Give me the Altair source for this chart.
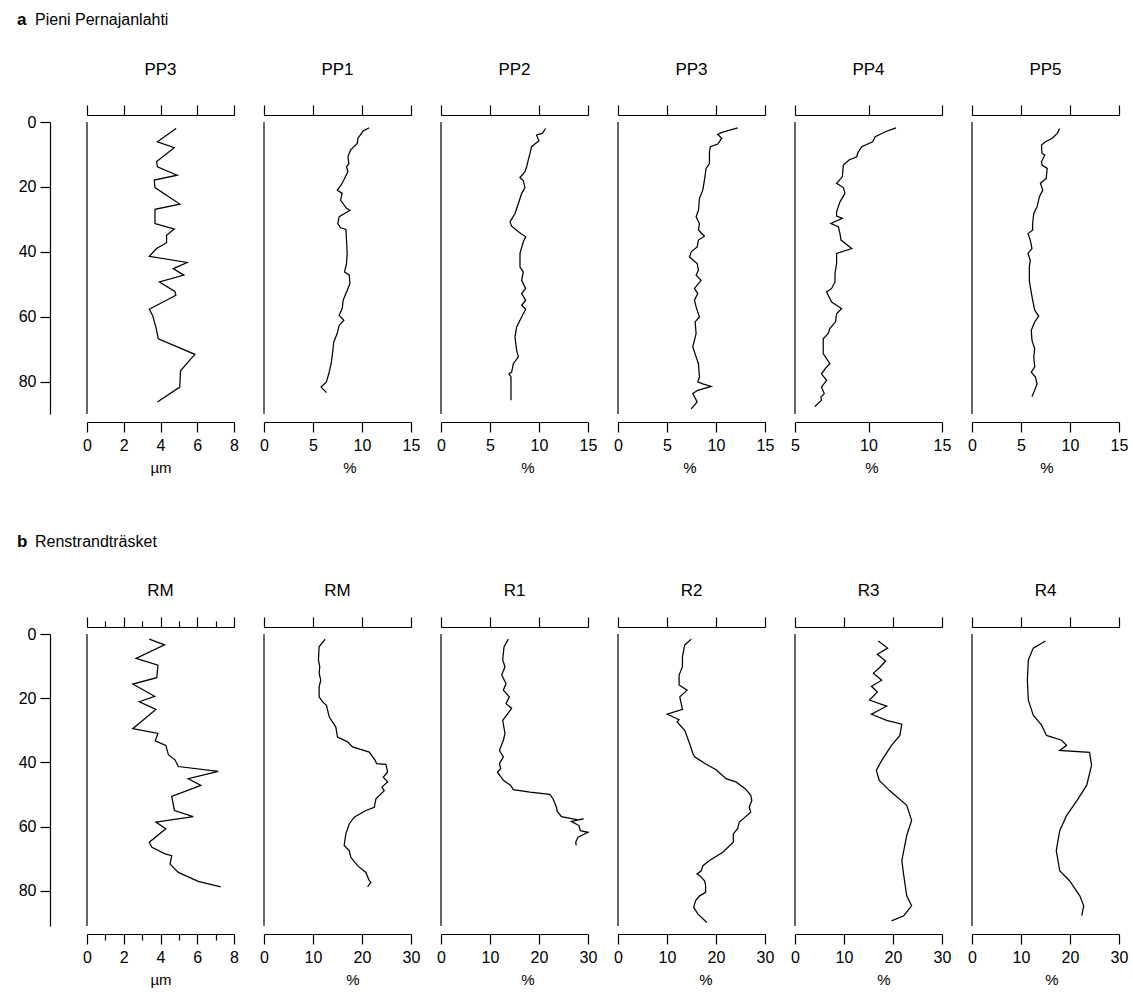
import altair as alt
import pandas as pd

FONT = "Liberation Sans"
W = 147
H = 292

# ---------------- Row a : Pieni Pernajanlahti ----------------
pp3um_depth = [2.0, 6.1, 7.9, 12.2, 13.8, 16.4, 17.9, 20.2, 25.3, 26.9, 31.3, 33.0, 34.9, 37.2, 39.0,
               41.4, 43.3, 45.2, 47.2, 49.3, 52.2, 53.4, 57.7, 59.6, 63.2, 66.8, 71.6, 76.7, 81.7, 86.3]
pp3um_val = [4.85, 3.83, 4.75, 3.79, 3.83, 4.91, 3.66, 3.70, 5.05, 3.70, 3.70, 4.75, 4.33, 4.33, 3.79,
             3.39, 5.45, 4.69, 5.27, 3.94, 4.78, 4.84, 3.39, 3.57, 3.75, 3.88, 5.87, 5.09, 5.05, 3.83]

pp1_depth = [1.8, 2.7, 5.0, 6.6, 8.6, 10.7, 12.8, 13.8, 15.3, 17.4, 19.4, 21.0, 22.0, 24.1, 26.6, 27.2,
             28.2, 29.2, 31.3, 32.6, 33.1, 36.4, 40.5, 43.6, 46.2, 47.2, 49.8, 52.4, 54.9, 57.5, 59.6,
             61.1, 62.7, 65.2, 67.8, 71.4, 74.5, 77.6, 80.1, 81.7, 83.4]
pp1_val = [10.72, 10.14, 9.59, 9.52, 8.84, 8.56, 8.66, 8.42, 8.56, 8.22, 7.88, 7.47, 7.98, 7.81, 8.42, 8.77,
           8.22, 7.67, 7.53, 7.81, 8.36, 8.42, 8.49, 8.42, 8.22, 8.70, 8.77, 8.42, 8.08, 7.98, 7.67,
           8.15, 7.67, 7.47, 7.12, 6.99, 6.85, 6.61, 6.37, 5.82, 6.37]

pp2_depth = [2.0, 3.5, 4.0, 5.8, 7.6, 9.7, 11.7, 13.8, 15.3, 17.1, 18.1, 20.2, 22.0, 25.1, 28.2, 30.8,
             32.1, 33.8, 35.4, 36.9, 40.5, 44.7, 46.2, 48.8, 51.3, 52.9, 54.9, 56.5, 57.7, 60.1, 63.2,
             66.3, 70.4, 72.4, 74.5, 77.1, 77.6, 78.6, 85.8]
pp2_val = [10.67, 10.33, 9.75, 9.99, 9.24, 9.08, 8.91, 8.74, 8.57, 8.05, 8.40, 8.57, 8.23, 7.90, 7.55, 7.04,
           7.21, 7.90, 8.64, 8.40, 8.06, 8.06, 8.40, 8.23, 8.64, 8.23, 8.64, 8.23, 8.64, 8.23, 7.72,
           7.55, 7.72, 7.90, 7.38, 7.21, 6.94, 7.14, 7.14]

pp3_depth = [1.8, 3.2, 3.8, 5.0, 6.8, 7.6, 9.2, 12.8, 14.3, 17.9, 21.0, 23.6, 27.2, 29.2, 31.3, 33.3,
             35.2, 36.4, 38.5, 40.0, 41.6, 43.6, 45.7, 47.2, 48.8, 51.3, 52.9, 54.9, 57.0, 60.1, 61.6,
             65.2, 69.3, 72.4, 74.5, 78.6, 80.1, 80.7, 81.5, 82.7, 83.7, 86.3, 88.4]
pp3_val = [12.22, 10.60, 10.18, 10.59, 10.18, 9.43, 9.33, 9.33, 8.99, 8.82, 8.65, 8.31, 8.21, 7.97, 8.31, 8.21,
           8.82, 8.21, 8.08, 7.47, 7.30, 8.08, 8.21, 7.97, 8.48, 7.80, 8.14, 7.80, 7.97, 8.31, 7.87,
           7.97, 7.63, 7.97, 8.21, 8.31, 8.14, 8.65, 9.50, 8.14, 7.63, 8.08, 7.47]

pp4_depth = [1.8, 3.0, 4.5, 6.1, 7.6, 9.5, 10.7, 11.7, 13.3, 16.9, 18.9, 20.2, 22.0, 24.6, 27.7, 29.0,
             29.7, 31.3, 32.3, 34.4, 36.4, 39.0, 40.5, 43.6, 46.7, 49.3, 51.3, 52.4, 55.5, 57.5, 59.1,
             61.6, 63.7, 65.2, 66.8, 71.4, 74.5, 75.5, 77.6, 79.6, 81.7, 83.7, 84.8, 85.8, 87.7]
pp4_val = [11.87, 11.14, 10.46, 10.28, 9.54, 9.27, 9.20, 8.68, 8.29, 8.22, 7.83, 8.29, 8.40, 8.06, 7.83, 7.83,
           8.22, 7.44, 7.95, 8.06, 8.13, 8.86, 7.83, 7.83, 7.72, 7.72, 7.49, 7.15, 7.49, 8.17, 7.83,
           7.76, 7.37, 7.26, 6.92, 6.92, 7.37, 7.15, 6.80, 7.15, 6.80, 6.99, 6.76, 6.80, 6.35]

pp5_depth = [2.0, 3.5, 5.0, 6.1, 7.1, 9.7, 10.2, 12.2, 13.3, 14.3, 17.4, 18.9, 21.0, 23.0, 26.1, 28.2,
             31.3, 33.3, 34.4, 36.4, 39.0, 40.5, 42.6, 44.7, 48.8, 50.8, 54.9, 58.0, 59.9, 61.6, 64.2,
             67.3, 69.9, 72.4, 75.5, 77.1, 78.6, 80.7, 82.7, 84.6]
pp5_val = [8.94, 8.70, 8.19, 7.50, 7.09, 7.15, 7.43, 7.09, 7.15, 7.67, 7.57, 6.98, 7.22, 6.88, 6.64, 6.30,
           6.19, 6.19, 5.71, 5.95, 6.12, 5.71, 5.95, 5.85, 5.85, 5.95, 6.19, 6.40, 6.81, 6.40, 6.05,
           6.12, 6.40, 6.30, 6.40, 6.05, 6.47, 6.64, 6.40, 6.12]

# ---------------- Row b : Renstrandträsket ----------------
rmum_depth = [1.6, 3.4, 7.6, 9.7, 13.6, 15.6, 19.4, 21.1, 23.5, 29.5, 31.0, 33.3, 34.7, 37.6, 39.2, 41.3,
              42.8, 45.1, 47.2, 50.6, 55.0, 56.9, 58.6, 60.7, 64.9, 66.5, 68.5, 69.1, 71.7, 74.3, 77.1, 78.8]
rmum_val = [3.39, 4.22, 2.67, 3.86, 3.80, 2.49, 3.68, 2.85, 3.75, 2.49, 3.86, 3.71, 4.29, 4.43, 4.79, 4.97,
            7.14, 5.51, 6.20, 4.61, 4.76, 5.78, 3.75, 4.29, 3.39, 3.53, 4.25, 4.61, 4.52, 4.97, 6.05, 7.28]

rm_depth = [1.6, 4.0, 8.1, 10.2, 12.3, 14.4, 16.5, 19.6, 21.1, 22.2, 25.8, 29.0, 32.1, 33.6, 35.2, 36.8,
            39.4, 40.4, 40.6, 43.0, 44.6, 46.1, 47.7, 48.8, 51.4, 54.0, 55.0, 57.1, 59.2, 62.3, 65.9,
            67.5, 69.6, 72.2, 74.3, 76.9, 77.4, 78.8]
rm_val = [12.48, 11.25, 11.11, 11.38, 11.25, 11.59, 11.25, 11.25, 11.93, 12.75, 13.30, 14.66, 15.00, 17.04, 18.07,
          21.48, 22.70, 22.97, 24.88, 25.23, 24.34, 25.23, 24.07, 24.54, 22.84, 22.50, 20.80, 18.40, 17.39,
          16.70, 16.36, 17.39, 17.73, 19.09, 20.80, 21.48, 21.82, 21.14]

r1_depth = [1.6, 4.0, 8.1, 10.2, 12.8, 15.4, 17.5, 19.6, 21.7, 23.2, 26.9, 31.0, 33.1, 36.3, 38.3, 40.4,
            42.0, 43.0, 45.6, 47.2, 48.5, 49.3, 50.0, 51.4, 54.0, 55.2, 56.9, 57.9, 57.6, 58.4, 59.7,
            61.3, 61.8, 63.3, 64.9, 65.9]
r1_val = [13.74, 12.86, 12.59, 13.06, 12.39, 13.27, 12.73, 13.95, 13.27, 14.42, 12.59, 13.06, 12.73, 11.92, 12.73,
          11.92, 12.19, 11.51, 12.73, 14.22, 14.76, 18.14, 22.21, 22.88, 23.56, 23.70, 24.58, 27.96, 29.11,
          26.60, 28.16, 28.43, 29.99, 27.96, 27.49, 27.60]

r2_depth = [1.6, 3.4, 7.1, 10.2, 12.8, 15.9, 17.5, 19.6, 23.5, 25.0, 26.7, 27.4, 30.0, 34.2, 37.3, 38.3,
            40.6, 42.3, 45.1, 46.1, 48.2, 50.3, 51.9, 54.0, 55.5, 57.3, 58.6, 60.7, 62.3, 64.9, 68.0,
            70.6, 72.2, 73.8, 74.8, 75.3, 76.9, 78.4, 80.5, 81.6, 83.1, 85.2, 87.3, 89.9]
r2_val = [14.97, 13.62, 13.15, 13.15, 12.47, 12.47, 14.09, 12.61, 13.15, 10.05, 12.47, 12.07, 13.62, 14.63, 15.30,
          15.64, 18.00, 20.03, 22.05, 24.07, 25.96, 27.10, 27.31, 26.77, 27.10, 25.76, 24.75, 24.41, 23.53,
          23.53, 21.38, 18.68, 17.33, 16.99, 16.12, 16.66, 17.67, 17.88, 17.88, 16.66, 15.85, 15.44, 16.32, 18.14]

r3_depth = [2.2, 4.4, 6.3, 8.4, 10.6, 12.2, 14.4, 16.3, 18.1, 20.6, 22.5, 25.0, 26.9, 28.1, 31.6, 34.7,
            39.4, 42.5, 45.6, 48.8, 53.4, 58.1, 62.8, 67.5, 70.6, 75.3, 81.6, 84.7, 87.8, 89.4]
r3_val = [17.0, 18.9, 16.8, 18.5, 17.2, 16.0, 17.7, 15.6, 16.8, 15.2, 18.7, 15.6, 18.7, 21.8, 21.4, 19.7,
          17.7, 16.6, 17.2, 19.3, 22.8, 23.8, 22.8, 22.2, 21.8, 22.2, 22.8, 23.8, 22.2, 19.7]

r4_depth = [2.2, 4.4, 8.1, 14.4, 20.6, 25.3, 28.4, 31.6, 33.1, 34.7, 36.3, 36.9, 40.9, 47.2, 51.9, 56.6,
            61.3, 67.5, 73.8, 76.9, 81.6, 84.7, 87.8]
r4_val = [15.0, 12.5, 11.5, 11.3, 11.5, 12.5, 14.2, 15.2, 18.3, 19.3, 17.9, 24.0, 24.4, 23.4, 21.4, 19.3,
          17.9, 17.2, 17.9, 19.9, 22.0, 22.8, 22.4]

Y_TICKS = [0, 20, 40, 60, 80]

AX = dict(domainColor="black", domainWidth=1.2, tickColor="black", tickWidth=1.2, grid=False,
          labelFont=FONT, labelFontSize=16, labelColor="black", titleFont=FONT, titleFontSize=15,
          titleFontWeight="normal", titleColor="black", labelFlush=False, labelOverlap=False)


def panel(depth, vals, title, domain, ticks, xtitle, ymax, title_y, label_y, tdx=0, first=False,
          minor=None, row_letter=None, row_name=None):
    df = pd.DataFrame({"d": depth, "v": vals})
    df["i"] = range(len(df))
    xs = alt.Scale(domain=domain, nice=False, zero=False)
    ys = alt.Scale(domain=[0, ymax], reverse=True, nice=False, zero=False)

    bottom = alt.Axis(orient="bottom", values=ticks, offset=8, tickSize=10, labelPadding=5,
                      title=xtitle, titlePadding=7, titleX=W / 2 + tdx, **AX)
    top = alt.Axis(orient="top", values=ticks, offset=7, tickSize=10, labels=False, title=None, **AX)
    if first:
        yax = alt.Axis(orient="left", values=Y_TICKS, offset=37, tickSize=10, labelPadding=4,
                       title=None, **AX)
    else:
        yax = None

    line = alt.Chart(df).mark_line(color="black", strokeWidth=1.25).encode(
        x=alt.X("v:Q", scale=xs, axis=bottom),
        y=alt.Y("d:Q", scale=ys, axis=yax),
        order="i:Q",
    )
    toplayer = alt.Chart(df).mark_line(strokeOpacity=0).encode(
        x=alt.X("v:Q", scale=xs, axis=top),
        y=alt.Y("d:Q", scale=ys, axis=yax),
        order="i:Q",
    )
    frame = alt.Chart(pd.DataFrame({"k": [0]})).mark_rule(color="black", strokeWidth=1.2).encode(
        x=alt.value(0),
        y=alt.YDatum(0, axis=yax, scale=ys),
        y2=alt.Y2Datum(ymax),
    )
    ttl = alt.Chart(pd.DataFrame({"t": [title]})).mark_text(
        font=FONT, fontSize=17, align="center", baseline="middle", color="black").encode(
        text="t:N", x=alt.value(W / 2), y=alt.value(title_y))
    layers = [line, toplayer, frame, ttl]
    if minor:
        bmin = alt.Axis(orient="bottom", values=minor, offset=8, tickSize=6, labels=False, domain=False,
                        title=None, **AX)
        tmin = alt.Axis(orient="top", values=minor, offset=7, tickSize=6, labels=False, domain=False,
                        title=None, **AX)
        for ax in (bmin, tmin):
            layers.append(alt.Chart(df).mark_line(strokeOpacity=0).encode(
                x=alt.X("v:Q", scale=xs, axis=ax),
                y=alt.Y("d:Q", scale=ys, axis=yax),
                order="i:Q",
            ))
    if row_letter:
        lab = pd.DataFrame({"t": [row_letter]})
        layers.append(alt.Chart(lab).mark_text(font=FONT, fontSize=17, fontWeight="bold", align="left",
                                               baseline="alphabetic", color="black").encode(
            text="t:N", x=alt.value(-70), y=alt.value(label_y)))
        nm = pd.DataFrame({"t": [row_name]})
        layers.append(alt.Chart(nm).mark_text(font=FONT, fontSize=16, align="left",
                                              baseline="alphabetic", color="black").encode(
            text="t:N", x=alt.value(-52), y=alt.value(label_y)))

    return alt.layer(*layers).resolve_axis(x="independent").properties(width=W, height=H)


T15 = [0, 5, 10, 15]
T30 = [0, 10, 20, 30]
YA, YB = 90, 91
TA, TB = -52, -43
LA, LB = -97, -87

panels = [
    panel(pp3um_depth, pp3um_val, "PP3", [0, 8], [0, 2, 4, 6, 8], "µm", YA, TA, LA, first=True,
          row_letter="a", row_name="Pieni Pernajanlahti"),
    panel(pp1_depth, pp1_val, "PP1", [0, 15], T15, "%", YA, TA, LA, tdx=12),
    panel(pp2_depth, pp2_val, "PP2", [0, 15], T15, "%", YA, TA, LA, tdx=13),
    panel(pp3_depth, pp3_val, "PP3", [0, 15], T15, "%", YA, TA, LA, tdx=-2),
    panel(pp4_depth, pp4_val, "PP4", [5, 15], [5, 10, 15], "%", YA, TA, LA, tdx=3),
    panel(pp5_depth, pp5_val, "PP5", [0, 15], T15, "%", YA, TA, LA, tdx=1),
    panel(rmum_depth, rmum_val, "RM", [0, 8], [0, 2, 4, 6, 8], "µm", YB, TB, LB, first=True,
          minor=[1, 3, 5, 7], row_letter="b", row_name="Renstrandträsket"),
    panel(rm_depth, rm_val, "RM", [0, 30], T30, "%", YB, TB, LB, tdx=15),
    panel(r1_depth, r1_val, "R1", [0, 30], T30, "%", YB, TB, LB, tdx=13),
    panel(r2_depth, r2_val, "R2", [0, 30], T30, "%", YB, TB, LB, tdx=14),
    panel(r3_depth, r3_val, "R3", [0, 30], T30, "%", YB, TB, LB, tdx=15),
    panel(r4_depth, r4_val, "R4", [0, 30], T30, "%", YB, TB, LB, tdx=6),
]

chart = alt.concat(*panels, columns=6, bounds="flush",
                   spacing=alt.RowColnumber(row=220, column=30)).properties(
    padding={"left": 17, "top": 11, "right": 5, "bottom": 5},
    background="white",
).configure_view(stroke=None)

chart.save("out.html", embed_options={"renderer": "svg", "actions": False})
